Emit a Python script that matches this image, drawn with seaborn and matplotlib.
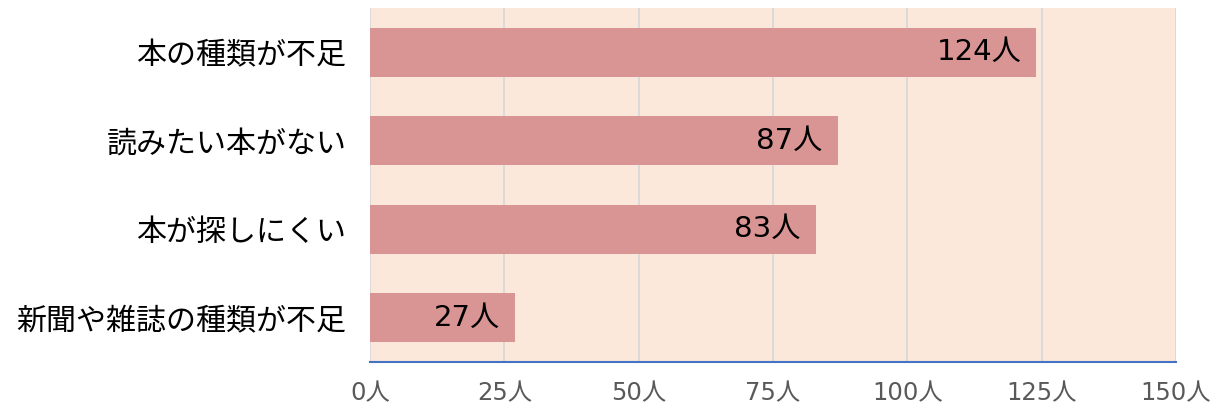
import matplotlib
matplotlib.use("Agg")
import matplotlib.pyplot as plt
import seaborn as sns
import pandas as pd

categories = ["本の種類が不足", "読みたい本がない", "本が探しにくい", "新聞や雑誌の種類が不足"]
values = [124, 87, 83, 27]
xticks = [0, 25, 50, 75, 100, 125, 150]
xticklabels = [f"{t}人" for t in xticks]

sns.set_theme(style="white")
plt.rcParams['font.family'] = ['Noto Sans CJK JP', 'DejaVu Sans']
num_family = ['DejaVu Sans', 'Noto Sans CJK JP']

df = pd.DataFrame({"cat": categories, "val": values})

fig = plt.figure(figsize=(12.22, 4.09), dpi=100)
ax = fig.add_axes([0.3028, 0.1149, 0.6596, 0.8655])
ax.set_facecolor("#FCE8DA")

sns.barplot(data=df, x="val", y="cat", orient="h", color="#D99594",
            saturation=1, width=0.55, ax=ax, zorder=3, linewidth=0, edgecolor="none")

ax.set_xlim(0, 150)
ax.set_ylim(3.5, -0.5)
ax.set_xticks(xticks)
ax.set_xticklabels(xticklabels, fontsize=17.5, color="#595959", family=num_family)
ax.set_yticks(range(len(categories)))
ax.set_yticklabels(categories, fontsize=21.6, color="#000000")
ax.set_xlabel("")
ax.set_ylabel("")

ax.grid(axis="x", color="#D9D9D9", linewidth=1.3, zorder=0)
ax.set_axisbelow(True)
for s in ["top", "right", "left"]:
    ax.spines[s].set_visible(False)
ax.spines["bottom"].set_color("#4472C4")
ax.spines["bottom"].set_linewidth(1.5)
ax.tick_params(axis="x", direction="in", length=6, width=1.3, color="#4472C4", pad=14)
ax.tick_params(axis="y", length=0, pad=17)

for c in ax.containers:
    ax.bar_label(c, labels=[f"{v}人" for v in values], padding=-11,
                 fontsize=21, color="#000000", label_type="edge", family=num_family)
for t in ax.texts:
    t.set_ha("right")

fig.savefig("out.png", dpi=100)
